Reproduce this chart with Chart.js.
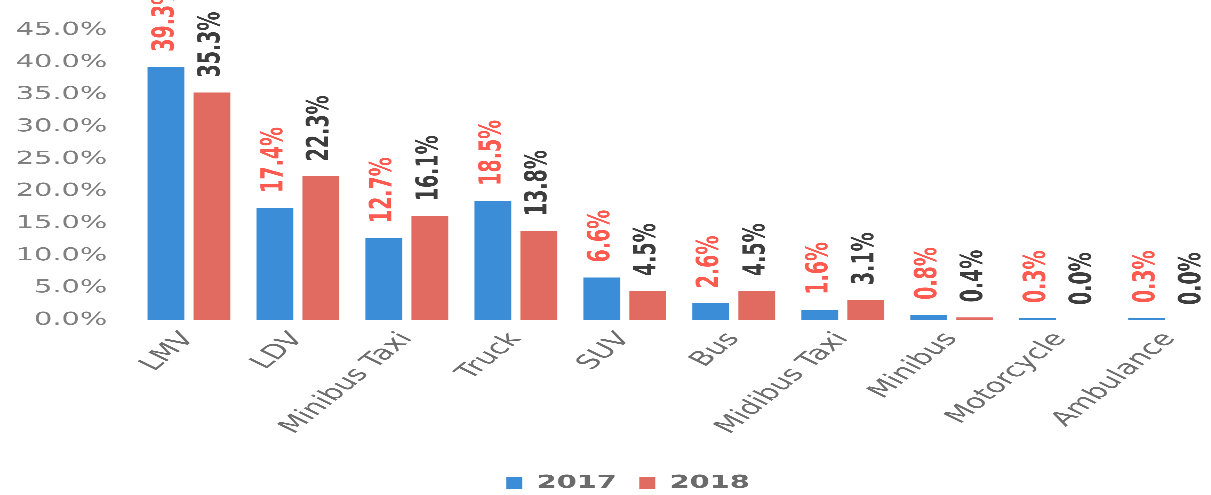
<!DOCTYPE html>
<html><head><meta charset="utf-8">
<script src="https://cdn.jsdelivr.net/npm/chart.js@4.4.1/dist/chart.umd.min.js"></script>
<style>
html,body{margin:0;padding:0;background:#fff;overflow:hidden;width:1211px;height:495px}
#wrap{width:770px;height:502px;transform:scaleX(1.6);transform-origin:0 0}
canvas{display:block}
</style></head><body>
<div id="wrap"><canvas id="c" width="770" height="502"></canvas></div>
<script>
const categories = ['LMV','LDV','Minibus Taxi','Truck','SUV','Bus','Midibus Taxi','Minibus','Motorcycle','Ambulance'];
const values2017 = [39.3, 17.4, 12.7, 18.5, 6.6, 2.6, 1.6, 0.8, 0.3, 0.3];
const values2018 = [35.3, 22.3, 16.1, 13.8, 4.5, 4.5, 3.1, 0.4, 0.0, 0.0];
const seriesNames = ['2017','2018'];
const yMin = 0, yMax = 45, yStep = 5;

const barColors = ['#3a8dd6', '#e26b61'];
const labelColors = ['#ff5a4f', '#3d3d3d'];

const dataLabelPlugin = {
  id: 'dataLabels',
  afterDatasetsDraw(chart) {
    const ctx = chart.ctx;
    chart.data.datasets.forEach((ds, i) => {
      const meta = chart.getDatasetMeta(i);
      meta.data.forEach((bar, j) => {
        const v = ds.data[j];
        ctx.save();
        ctx.translate(bar.x, bar.y - 15);
        ctx.rotate(-Math.PI / 2);
        ctx.font = 'bold 19px "DejaVu Sans"';
        ctx.fillStyle = labelColors[i];
        ctx.textAlign = 'left';
        ctx.textBaseline = 'middle';
        ctx.fillText(v.toFixed(1) + '%', 0, 0);
        ctx.restore();
      });
    });
  }
};

const legendShiftPlugin = {
  id: 'legendShift',
  afterLayout(chart) {
    if (chart.legend) { chart.legend.left += 10; chart.legend.right += 10; }
  }
};

new Chart(document.getElementById('c'), {
  type: 'bar',
  data: {
    labels: categories,
    datasets: [
      { label: seriesNames[0], data: values2017, backgroundColor: barColors[0], categoryPercentage: 0.844, barPercentage: 0.8 },
      { label: seriesNames[1], data: values2018, backgroundColor: barColors[1], categoryPercentage: 0.844, barPercentage: 0.8 }
    ]
  },
  options: {
    responsive: false,
    animation: false,
    devicePixelRatio: 3,
    layout: { padding: { left: 0, right: 5, top: 30, bottom: 0 } },
    plugins: {
      tooltip: { enabled: false },
      legend: {
        position: 'bottom',
        labels: {
          boxWidth: 10, boxHeight: 12, padding: 14,
          color: '#6b6b6b',
          font: { family: 'DejaVu Sans', size: 18, weight: 'bold' }
        }
      }
    },
    scales: {
      x: {
        grid: { display: false, drawTicks: false },
        border: { display: false },
        ticks: {
          autoSkip: false, minRotation: 52, maxRotation: 52, padding: 8,
          color: '#6e6e6e', font: { family: 'DejaVu Sans', size: 20 }
        },
        afterFit(s) { s.height = 140; }
      },
      y: {
        min: yMin, max: yMax,
        grid: { display: false, drawTicks: false },
        border: { display: false },
        ticks: {
          stepSize: yStep, padding: 17, color: '#808080',
          font: { family: 'DejaVu Sans', size: 18 },
          callback: v => v.toFixed(1) + '%'
        },
        afterFit(s) { s.width = 84; }
      }
    }
  },
  plugins: [dataLabelPlugin, legendShiftPlugin]
});
</script>
</body></html>
